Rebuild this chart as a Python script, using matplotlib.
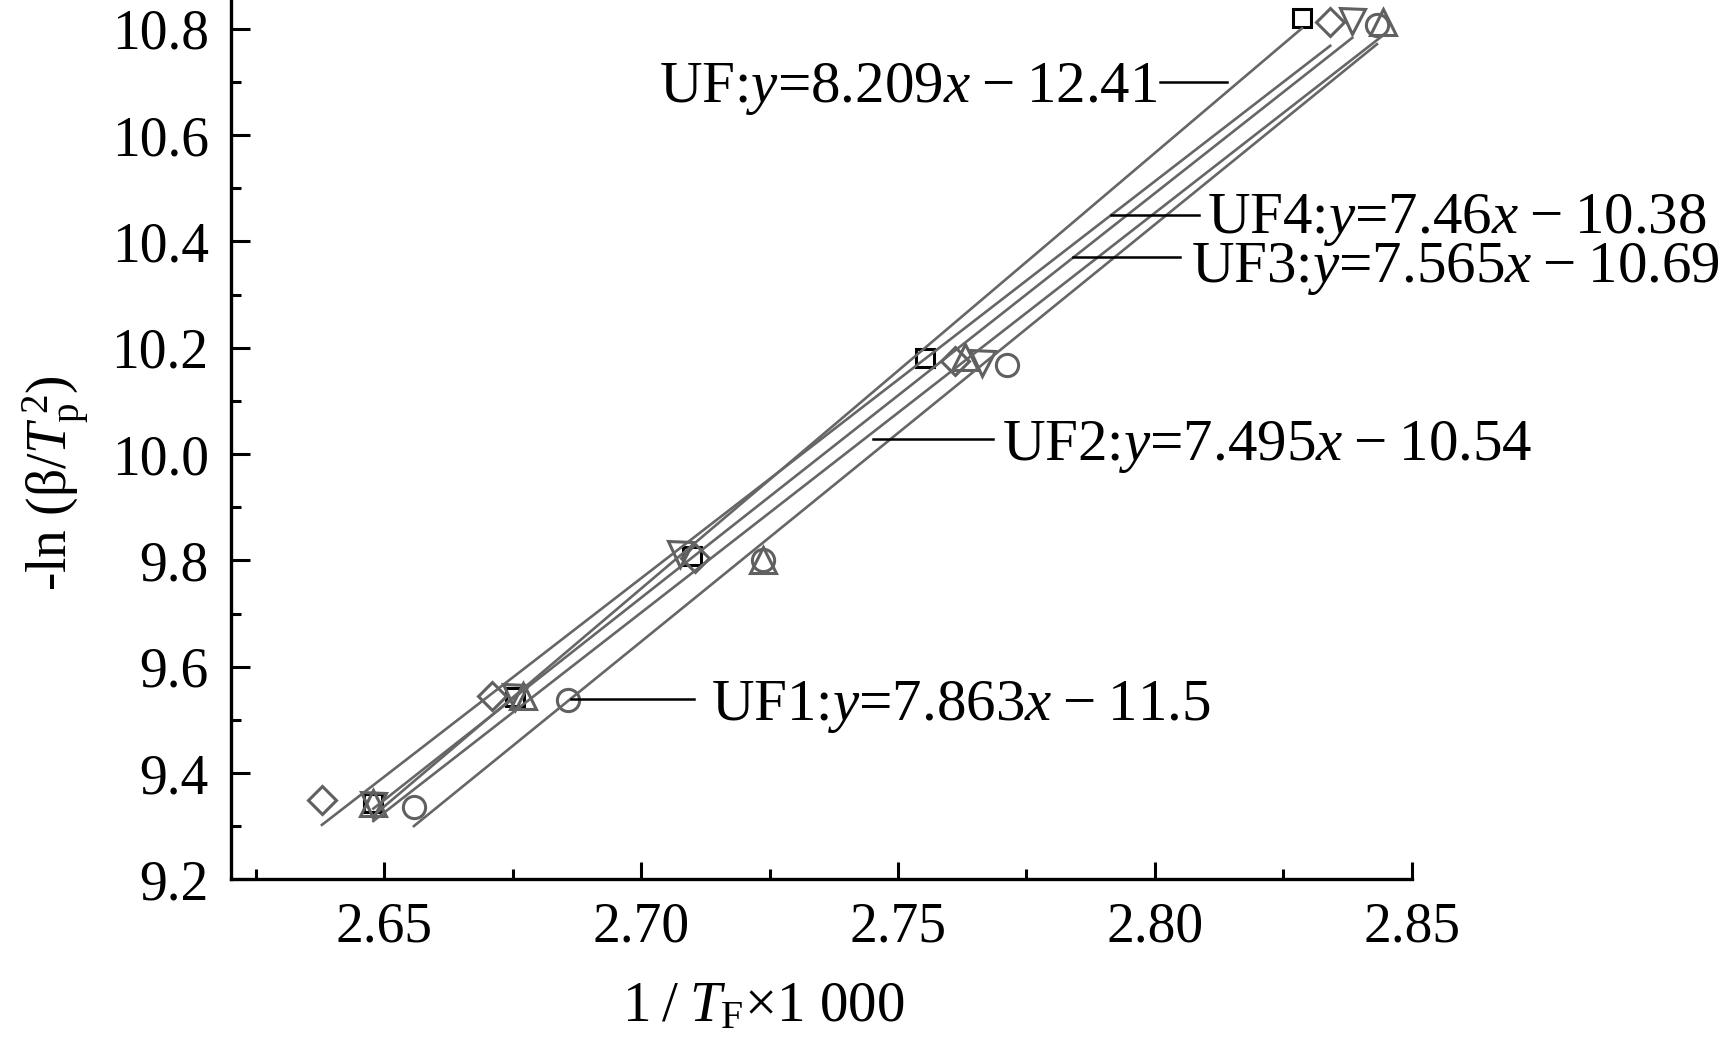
import numpy as np
import matplotlib
matplotlib.use('Agg')
import matplotlib.pyplot as plt

plt.rcParams['font.family'] = ['Liberation Serif', 'DejaVu Serif']
plt.rcParams['mathtext.fontset'] = 'custom'
plt.rcParams['mathtext.rm'] = 'Liberation Serif'
plt.rcParams['mathtext.it'] = 'Liberation Serif:italic'

# 1/T x 1000 and -ln(beta/Tp^2)
uf_x = [2.6479, 2.6755, 2.7099, 2.7553, 2.8286]
uf_y = [9.343, 9.544, 9.808, 10.180, 10.820]
uf1_x = [2.6558, 2.6858, 2.7238, 2.7712, 2.8432]
uf1_y = [9.336, 9.537, 9.800, 10.167, 10.807]
uf2_x = [2.6479, 2.6771, 2.7238, 2.7631, 2.8444]
uf2_y = [9.343, 9.546, 9.800, 10.182, 10.813]
uf3_x = [2.6479, 2.6755, 2.7076, 2.7664, 2.8384]
uf3_y = [9.340, 9.544, 9.812, 10.171, 10.815]
uf4_x = [2.6379, 2.6710, 2.7105, 2.7611, 2.8341]
uf4_y = [9.349, 9.546, 9.804, 10.176, 10.813]

labels = ['UF:$y$=8.209$x$\u2009\u2212\u200912.41',
          'UF1:$y$=7.863$x$\u2009\u2212\u200911.5',
          'UF2:$y$=7.495$x$\u2009\u2212\u200910.54',
          'UF3:$y$=7.565$x$\u2009\u2212\u200910.69',
          'UF4:$y$=7.46$x$\u2009\u2212\u200910.38']

# leader lines (x0, x1, y) and where the text sits
leaders = [(2.8010, 2.8141, 10.700), (2.6864, 2.7103, 9.539), (2.7452, 2.7685, 10.028),
           (2.7841, 2.8049, 10.370), (2.7915, 2.8086, 10.449)]
text_pos = [(2.8005, 10.700, 'right'), (2.7136, 9.539, 'left'), (2.7703, 10.028, 'left'),
            (2.8070, 10.362, 'left'), (2.8102, 10.455, 'left')]

series = [(uf_x, uf_y, 's', 'black', 13), (uf1_x, uf1_y, 'o', '#606060', 16),
          (uf2_x, uf2_y, '^', '#606060', 19), (uf3_x, uf3_y, 'v', '#606060', 18),
          (uf4_x, uf4_y, 'D', '#606060', 14)]

fig = plt.figure(figsize=(17.21, 10.60), dpi=100)
ax = fig.add_axes([0.1342, 0.1703, 0.6862, 0.8297])

for xs, ys, mk, col, ms in series:
    xs = np.array(xs)
    ys = np.array(ys)
    ax.plot(xs, ys, linestyle='none', marker=mk, mfc='none', mec=col, mew=2.2, ms=ms, zorder=2)
    k, b = np.polyfit(xs, ys, 1)
    xx = np.array([xs.min(), xs.max()])
    ax.plot(xx, k * xx + b, color='#666666', lw=1.9, zorder=3)

for (x0, x1, yy), (tx, ty, ha), lab in zip(leaders, text_pos, labels):
    ax.plot([x0, x1], [yy, yy], color='black', lw=1.8, zorder=4)
    ax.text(tx, ty, lab, fontsize=42.5, ha=ha, va='center_baseline')

ax.set_xlim(2.6202, 2.85)
ax.set_ylim(9.2, 10.854)
ax.set_xticks([2.65, 2.70, 2.75, 2.80, 2.85])
ax.set_xticks(np.arange(2.625, 2.851, 0.025), minor=True)
ax.set_yticks(np.arange(9.2, 10.81, 0.2))
ax.set_yticks(np.arange(9.3, 10.81, 0.2), minor=True)
ax.set_xticklabels(['2.65', '2.70', '2.75', '2.80', '2.85'])
ax.set_yticklabels(['%.1f' % v for v in np.arange(9.2, 10.81, 0.2)])

ax.spines['top'].set_visible(False)
ax.spines['right'].set_visible(False)
ax.spines['left'].set_linewidth(2.4)
ax.spines['bottom'].set_linewidth(2.4)
ax.tick_params(which='major', direction='in', width=2.2, labelsize=40)
ax.tick_params(axis='x', which='major', length=12, pad=16)
ax.tick_params(axis='y', which='major', length=14, pad=16)
ax.tick_params(which='minor', direction='in', width=2.2, length=7)

fig.text(763 / 1721, 1 - 1021 / 1060, '1\u2009/\u2009$T_{\\rm F}$\u00d71 000', fontsize=41, ha='center', va='baseline')
fig.text(56 / 1721, 1 - 483 / 1060, '-ln (\u03b2/$T_{\\rm p}^{\\,2}$)', fontsize=40,
         rotation=90, ha='center', va='center')

fig.savefig('out.png', dpi=100)
